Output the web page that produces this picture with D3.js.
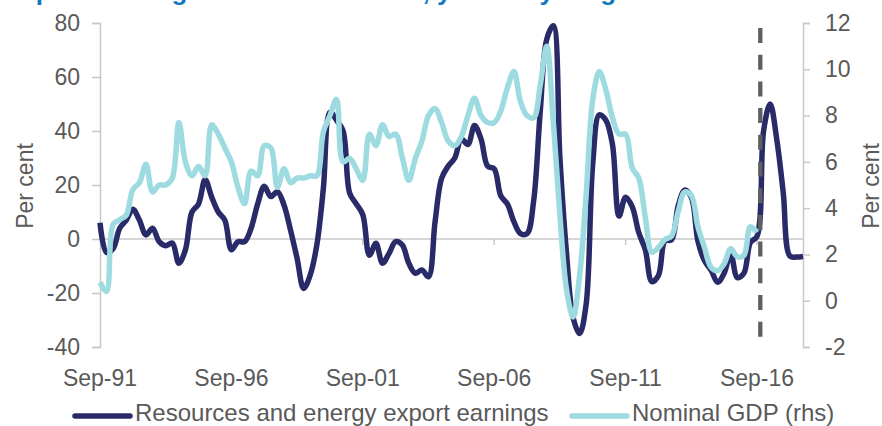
<!DOCTYPE html>
<html>
<head>
<meta charset="utf-8">
<script src="https://cdn.jsdelivr.net/npm/d3@7"></script>
<style>
  body { margin: 0; background: #fff; }
  svg { display: block; font-family: "Liberation Sans", Arial, sans-serif; }
</style>
</head>
<body>
<svg id="chart"></svg>
<script>
// quarterly categories, Sep-91 to Jun-18 (108 quarters)
const firstQuarter = new Date(1991, 8, 1);
const quarterCount = 108;
const quarters = d3.range(quarterCount)
  .map(i => d3.timeFormat('%b-%y')(d3.timeMonth.offset(firstQuarter, i * 3)));

const tickLabels = ['Sep-91', 'Sep-96', 'Sep-01', 'Sep-06', 'Sep-11', 'Sep-16'];
const leftTicks = [-40, -20, 0, 20, 40, 60, 80];
const rightTicks = [-2, 0, 2, 4, 6, 8, 10, 12];
const forecastStart = 'Dec-16';

// Resources and energy export earnings, y/y per cent (lhs), Sep-91 .. Jun-18
const exportEarnings = [
  6, -5, -3.5, 4, 7, 11, 7, 1.5, 4, -1,
  -2.5, -1.5, -9, -4, 10, 13, 22, 15.5, 10, 7,
  -4, -1, -1, 4, 13, 19.5, 15.7, 17.5, 12.6, 3.3,
  -7.2, -18.3, -13.3, -2.2, 18.8, 47, 44, 40, 17, 13,
  9, -6, -1.6, -9, -5.3, -1, -2.2, -9, -12.7, -11.5,
  -14, 6.4, 22.5, 27, 30, 37, 35, 42, 37, 27,
  26, 16, 13, 6.4, 2, 2, 14, 47, 74, 79,
  30, -5, -29, -35, -24, 28, 46, 44, 35, 8.5,
  15.5, 12, 2.4, -4, -15.8, -13.5, -0.7, -0.3, 12.3, 18.1,
  15.5, -0.7, -8, -11.5, -16, -12.7, -5.5, -14.3, -12.7, -1.3,
  1, 40, 50, 37, 17, -6.3, -6.7, -6.5
];

// Nominal GDP, y/y per cent (rhs), Sep-91 .. Sep-16
const nominalGdp = [
  0.8, 0.4, 3.3, 3.5, 3.7, 4.8, 5.1, 5.9, 4.7, 5.0,
  5.0, 5.3, 7.7, 6.0, 5.4, 5.8, 5.4, 7.6, 7.2, 6.6,
  6.0, 4.9, 4.2, 5.6, 5.4, 6.7, 6.6, 4.9, 5.7, 5.1,
  5.3, 5.3, 5.4, 5.4, 7.3, 8.0, 8.7, 6.0, 6.15, 5.7,
  5.2, 7.2, 6.7, 7.6, 7.1, 7.2, 6.2, 5.2, 6.15, 6.9,
  8.0, 8.3, 7.7, 6.9, 6.7, 7.1, 8.0, 8.75, 8.0, 7.7,
  7.7, 8.2, 9.2, 9.9, 8.6, 8.0, 7.9, 9.3, 11.0, 7.7,
  3.7, 0.5, -0.7, 1.1, 4.6, 8.7, 9.9, 9.1, 7.9, 7.2,
  7.2, 5.75, 5.3, 3.6, 2.1, 2.3, 2.65, 2.8, 3.85, 4.7,
  4.55, 3.2, 2.3, 1.45, 1.3, 1.6, 2.25, 1.9, 1.95, 3.2,
  2.95
];

const width = 882;
const height = 426;
const margin = { top: 23, right: 79, bottom: 79, left: 100 };

const navy = '#282b68';
const aqua = '#9ddbe1';
const axisGrey = '#c8c8c8';
const textGrey = '#595959';

const svg = d3.select('#chart')
  .attr('width', width)
  .attr('height', height)
  .attr('viewBox', `0 0 ${width} ${height}`);

const x = d3.scalePoint()
  .domain(quarters)
  .range([margin.left, width - margin.right]);

const yLeft = d3.scaleLinear()
  .domain([-40, 80])
  .range([height - margin.bottom, margin.top]);

const yRight = d3.scaleLinear()
  .domain([-2, 12])
  .range([height - margin.bottom, margin.top]);

// title, cut off by the top edge so only descenders show
svg.append('text')
  .attr('x', 4)
  .attr('y', 0)
  .style('font-size', '26px')
  .style('font-weight', 'bold')
  .style('fill', '#1478be')
  .text('Export earnings and nominal GDP, year-on-year growth');

// zero line doubles as the category axis
svg.append('line')
  .attr('x1', margin.left)
  .attr('x2', width - margin.right)
  .attr('y1', yLeft(0))
  .attr('y2', yLeft(0))
  .style('stroke', axisGrey)
  .style('stroke-width', 1.5);

svg.selectAll('.x-tick')
  .data(tickLabels.slice(1))
  .enter()
  .append('line')
  .attr('class', 'x-tick')
  .attr('x1', d => x(d))
  .attr('x2', d => x(d))
  .attr('y1', yLeft(0))
  .attr('y2', yLeft(0) + 6)
  .style('stroke', axisGrey)
  .style('stroke-width', 1.5);

svg.selectAll('.x-label')
  .data(tickLabels)
  .enter()
  .append('text')
  .attr('class', 'x-label')
  .attr('x', d => x(d))
  .attr('y', 386)
  .attr('text-anchor', 'middle')
  .style('font-size', '23px')
  .style('fill', textGrey)
  .text(d => d);

// left axis
const leftAxis = svg.append('g')
  .attr('transform', `translate(${margin.left},0)`)
  .call(d3.axisLeft(yLeft).tickValues(leftTicks).tickFormat(d => String(d)).tickSize(8).tickPadding(12));

// right axis
const rightAxis = svg.append('g')
  .attr('transform', `translate(${width - margin.right},0)`)
  .call(d3.axisRight(yRight).tickValues(rightTicks).tickFormat(d => String(d)).tickSize(7).tickPadding(15));

[leftAxis, rightAxis].forEach(axis => {
  axis.select('.domain').style('stroke', axisGrey).style('stroke-width', 1.5);
  axis.selectAll('.tick line').style('stroke', axisGrey).style('stroke-width', 1.5);
  axis.selectAll('.tick text')
    .style('font-size', '23px')
    .style('font-family', '"Liberation Sans", Arial, sans-serif')
    .style('fill', textGrey);
});

svg.append('text')
  .attr('transform', 'translate(33,186) rotate(-90)')
  .attr('text-anchor', 'middle')
  .style('font-size', '23px')
  .style('fill', textGrey)
  .text('Per cent');

svg.append('text')
  .attr('transform', 'translate(879,186) rotate(-90)')
  .attr('text-anchor', 'middle')
  .style('font-size', '23px')
  .style('fill', textGrey)
  .text('Per cent');

// lines
const curve = d3.curveCatmullRom.alpha(0.5);

const earningsLine = d3.line()
  .x((d, i) => x(quarters[i]))
  .y(d => yLeft(d))
  .curve(curve);

const gdpLine = d3.line()
  .x((d, i) => x(quarters[i]))
  .y(d => yRight(d))
  .curve(curve);

svg.append('path')
  .datum(exportEarnings)
  .attr('d', earningsLine)
  .style('fill', 'none')
  .style('stroke', navy)
  .style('stroke-width', 5.5)
  .style('stroke-linejoin', 'round');

svg.append('path')
  .datum(nominalGdp)
  .attr('d', gdpLine)
  .style('fill', 'none')
  .style('stroke', aqua)
  .style('stroke-width', 5.5)
  .style('stroke-linejoin', 'round');

// forecast divider, half a quarter before the first forecast point
const dividerX = x(forecastStart) - x.step() / 2;
svg.append('line')
  .attr('x1', dividerX)
  .attr('x2', dividerX)
  .attr('y1', 28)
  .attr('y2', 338)
  .style('stroke', '#5f5f5f')
  .style('stroke-width', 4.3)
  .style('stroke-dasharray', '15 11.7');

// legend
const legend = [
  { label: 'Resources and energy export earnings', color: navy, x: 75 },
  { label: 'Nominal GDP (rhs)', color: aqua, x: 572 }
];

const legendItem = svg.selectAll('.legend')
  .data(legend)
  .enter()
  .append('g')
  .attr('class', 'legend')
  .attr('transform', d => `translate(${d.x},416)`);

legendItem.append('line')
  .attr('x1', 0)
  .attr('x2', 55)
  .style('stroke', d => d.color)
  .style('stroke-width', 5.5)
  .style('stroke-linecap', 'round');

legendItem.append('text')
  .attr('x', 60)
  .attr('y', 5)
  .style('font-size', '24px')
  .style('fill', textGrey)
  .text(d => d.label);
</script>
</body>
</html>
